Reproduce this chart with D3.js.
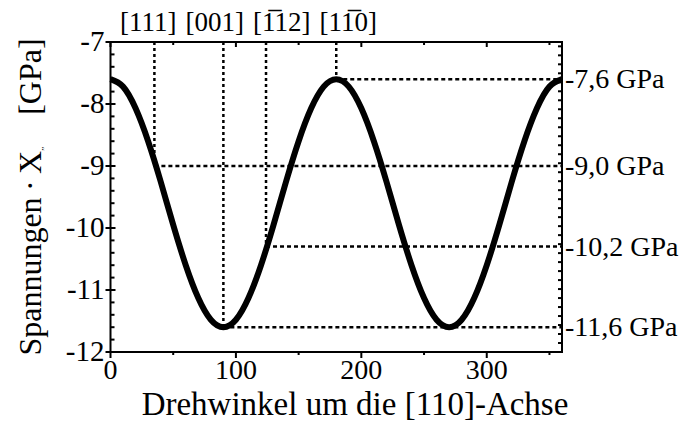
<!DOCTYPE html>
<html lang="de">
    <head>
        <meta charset="UTF-8">
        <script src="https://unpkg.com/d3@7/dist/d3.min.js"></script>
        <title>Spannungen</title>
        <style>
            body { margin: 0; background: #fff; }
            text { font-family: "Liberation Serif", "DejaVu Serif", serif; fill: #000; }
        </style>
    </head>
    <body>
        <script type="text/javascript">
            // Curve, every 10 degrees
            var angles = [0, 10, 20, 30, 40, 50, 60, 70, 80, 90, 100, 110, 120, 130, 140, 150, 160, 170, 180,
                          190, 200, 210, 220, 230, 240, 250, 260, 270, 280, 290, 300, 310, 320, 330, 340, 350, 360];
            var stress = [-7.6, -7.72, -8.07, -8.6, -9.25, -9.95, -10.6, -11.13, -11.48, -11.6,
                          -11.48, -11.13, -10.6, -9.95, -9.25, -8.6, -8.07, -7.72, -7.6,
                          -7.72, -8.07, -8.6, -9.25, -9.95, -10.6, -11.13, -11.48, -11.6,
                          -11.48, -11.13, -10.6, -9.95, -9.25, -8.6, -8.07, -7.72, -7.6];

            // Crystal directions marked on the curve
            var dirLabels = ["[111]", "[001]", "[1\u030512]", "[11\u03050]"];
            var dirAngles = [35, 90, 124, 180];
            var dirStress = [-9.0, -11.6, -10.3, -7.6];
            var stressLabels = ["-9,0 GPa", "-11,6 GPa", "-10,2 GPa", "-7,6 GPa"];

            var xTicks = [0, 100, 200, 300];
            var yTicks = [-7, -8, -9, -10, -11, -12];

            var margin = { top: 42, right: 119, bottom: 78, left: 110.5 };
            var width = 681 - margin.left - margin.right;
            var height = 430 - margin.top - margin.bottom;

            var svg = d3.select("body")
                .append("svg")
                .attr("width", 681)
                .attr("height", 430);

            var g = svg.append("g")
                .attr("transform", "translate(" + margin.left + "," + margin.top + ")");

            var x = d3.scaleLinear().domain([0, 360]).range([0, width]);
            var y = d3.scaleLinear().domain([-12, -7]).range([height, 0]);

            // minor ticks
            var minorY = d3.range(-12, -7.001, 0.2);
            var minorYRight = d3.range(-12, -7.001, 0.145);
            var minorX = d3.range(0, 361, 50);

            // left axis: major outward, minor inward
            g.selectAll(".ly").data(minorY).enter().append("line")
                .attr("x1", 0).attr("x2", 4)
                .attr("y1", function(d) { return y(d); })
                .attr("y2", function(d) { return y(d); })
                .attr("stroke", "#000").attr("stroke-width", 2);
            g.selectAll(".lyM").data(yTicks).enter().append("line")
                .attr("x1", -5).attr("x2", 5)
                .attr("y1", function(d) { return y(d); })
                .attr("y2", function(d) { return y(d); })
                .attr("stroke", "#000").attr("stroke-width", 2);
            g.selectAll(".lyT").data(yTicks).enter().append("text")
                .attr("x", -6)
                .attr("y", function(d) { return y(d); })
                .attr("dy", "0.3em")
                .attr("text-anchor", "end")
                .style("font-size", "29px")
                .text(function(d) { return d; });

            // right axis ticks inward
            g.selectAll(".ry").data(minorYRight).enter().append("line")
                .attr("x1", width - 4).attr("x2", width)
                .attr("y1", function(d) { return y(d); })
                .attr("y2", function(d) { return y(d); })
                .attr("stroke", "#000").attr("stroke-width", 2);

            // top axis ticks inward
            g.selectAll(".tx").data(minorX).enter().append("line")
                .attr("x1", function(d) { return x(d); })
                .attr("x2", function(d) { return x(d); })
                .attr("y1", 0)
                .attr("y2", function(d) { return d % 100 === 0 ? 5 : 3; })
                .attr("stroke", "#000").attr("stroke-width", 2);

            // bottom axis ticks outward
            g.selectAll(".bx").data(minorX).enter().append("line")
                .attr("x1", function(d) { return x(d); })
                .attr("x2", function(d) { return x(d); })
                .attr("y1", height)
                .attr("y2", function(d) { return d % 100 === 0 ? height + 6 : height + 3; })
                .attr("stroke", "#000").attr("stroke-width", 2);
            g.selectAll(".bxT").data(xTicks).enter().append("text")
                .attr("x", function(d) { return x(d); })
                .attr("y", height + 27)
                .attr("text-anchor", "middle")
                .style("font-size", "28px")
                .text(function(d) { return d; });

            // dotted guide lines
            dirAngles.forEach(function(a, i) {
                g.append("line")
                    .attr("x1", x(a)).attr("x2", x(a))
                    .attr("y1", 0).attr("y2", y(dirStress[i]))
                    .attr("stroke", "#000").attr("stroke-width", 2.5)
                    .attr("stroke-dasharray", "3,3");
                g.append("line")
                    .attr("x1", x(a)).attr("x2", width)
                    .attr("y1", y(dirStress[i])).attr("y2", y(dirStress[i]))
                    .attr("stroke", "#000").attr("stroke-width", 2.5)
                    .attr("stroke-dasharray", "4,3");
                g.append("text")
                    .attr("x", width + 3)
                    .attr("y", y(dirStress[i]))
                    .attr("dy", "0.33em")
                    .style("font-size", "28px")
                    .text(stressLabels[i]);
            });

            // the curve
            var line = d3.line()
                .x(function(d, i) { return x(angles[i]); })
                .y(function(d) { return y(d); })
                .curve(d3.curveNatural);

            g.append("path")
                .datum(stress)
                .attr("fill", "none")
                .attr("stroke", "#000")
                .attr("stroke-width", 6)
                .attr("d", line);

            // frame
            g.append("rect")
                .attr("width", width).attr("height", height)
                .attr("fill", "none")
                .attr("stroke", "#000").attr("stroke-width", 2);

            // direction labels, laid out one after the other
            var lx = 120;
            dirLabels.forEach(function(t) {
                var txt = svg.append("text")
                    .attr("x", lx).attr("y", 31)
                    .style("font-size", "27px")
                    .text(t);
                lx += txt.node().getComputedTextLength() + 9;
            });

            // axis titles
            svg.append("text")
                .attr("x", 355)
                .attr("y", 415)
                .attr("text-anchor", "middle")
                .style("font-size", "33px")
                .text("Drehwinkel um die [110]-Achse");

            var yl = svg.append("text")
                .attr("transform", "translate(41," + (margin.top + height / 2) + ") rotate(-90)")
                .attr("text-anchor", "middle")
                .style("font-size", "32px");
            yl.append("tspan").text("Spannungen\u2009\u00b7\u2009X");
            yl.append("tspan").attr("dy", 7).style("font-size", "9px").text("\u201d");
            yl.append("tspan").attr("dy", -7).text("\u00a0\u00a0\u00a0\u00a0[GPa]");
        </script>
    </body>
</html>
